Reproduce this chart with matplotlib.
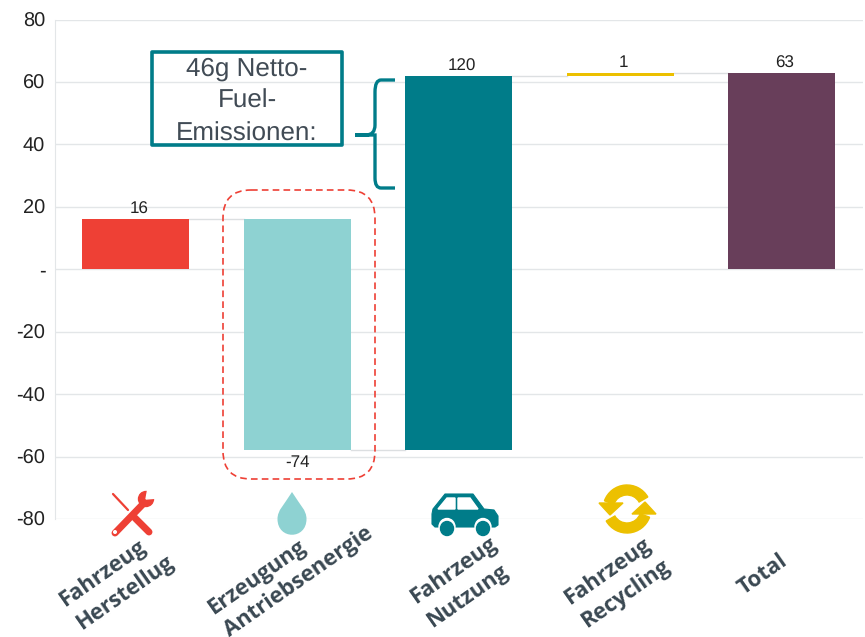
"""
Waterfall: CO2 per km by life cycle stage
"""

import numpy as np
import matplotlib
matplotlib.use("Agg")
import matplotlib.pyplot as plt
from matplotlib.patches import FancyBboxPatch, PathPatch, Polygon, Circle, Wedge, Rectangle, Ellipse
from matplotlib.path import Path
from matplotlib.transforms import ScaledTranslation

categories = ["Fahrzeug\nHerstellug", "Erzeugung\nAntriebsenergie", "Fahrzeug\nNutzung",
              "Fahrzeug\nRecycling", "Total"]
values = [16, -74, 120, 1, 63]
is_total = [False, False, False, False, True]
bar_colors = ["#ee4035", "#8ed2d2", "#007c89", "#ecc000", "#683e5a"]
y_ticks = [-80, -60, -40, -20, 0, 20, 40, 60, 80]
y_tick_labels = ["-80", "-60", "-40", "-20", "-", "20", "40", "60", "80"]
note_text = "46g Netto-\nFuel-\nEmissionen:"

TEAL = "#007c89"
RED = "#ee4035"
AQUA = "#8ed2d2"
YELLOW = "#ecc000"
GRID = "#e3e6e8"
LABEL_COL = "#3a4852"

plt.rcParams["text.hinting"] = "no_hinting"
plt.rcParams["text.hinting_factor"] = 1

W, H = 865, 637
fig = plt.figure(figsize=(W / 100, H / 100), dpi=100)
ax = fig.add_axes([55 / W, 1 - 519 / H, (862.5 - 55) / W, (519 - 19.5) / H])

# waterfall positions
bottoms = []
tops = []
running = 0
for v, total in zip(values, is_total):
    if total:
        bottoms.append(0)
        tops.append(v)
        running = v
    else:
        bottoms.append(running)
        running += v
        tops.append(running)

x = np.arange(len(values))
bar_w = 0.665
ax.bar(x, np.array(tops) - np.array(bottoms), bottom=bottoms, width=bar_w,
       color=bar_colors, zorder=3)

# connectors between bars
for i in range(len(values) - 1):
    ax.plot([x[i] + bar_w / 2, x[i + 1] - bar_w / 2], [tops[i], tops[i]],
            color="#dcdfe1", lw=1, zorder=2)

# value labels
label_dx = [3, 0, 3, 3, 3]
label_dy = [10, -12, 9, 10, 9]
for i, v in enumerate(values):
    end = min(tops[i], bottoms[i]) if v < 0 else max(tops[i], bottoms[i])
    ax.annotate(str(v), (x[i], end), xytext=(label_dx[i], label_dy[i]),
                textcoords="offset pixels", ha="center", va="center",
                fontsize=12, family="Liberation Sans", color="#222222", zorder=5)

ax.set_xlim(-0.5, len(values) - 0.5)
ax.set_ylim(-80, 80)
ax.set_yticks(y_ticks)
ax.set_yticklabels(y_tick_labels, family="Liberation Sans", fontsize=14.5, color="#222222")
ax.tick_params(axis="y", length=0, pad=7)
ax.tick_params(axis="x", length=0)
ax.grid(axis="y", color=GRID, lw=1, zorder=0)
ax.set_axisbelow(True)
for s in ["top", "right", "bottom"]:
    ax.spines[s].set_visible(False)
ax.spines["left"].set_color(GRID)

# slanted category labels, nudged to where they sit in the slide
label_offsets = [(-19, -58), (-7, -47), (3, -59), (-3, -59), (-19, -51)]
ax.set_xticks(x)
ax.set_xticklabels(categories, rotation=35, ha="center", va="center", rotation_mode="anchor",
                   multialignment="left", family="Open Sans", fontweight="bold", fontsize=15.5,
                   color=LABEL_COL, linespacing=1.4)
for lbl, (dx, dy) in zip(ax.get_xticklabels(), label_offsets):
    lbl.set_transform(lbl.get_transform() + ScaledTranslation(dx / 100, dy / 100, fig.dpi_scale_trans))

# overlay in pixel coordinates for the callouts and icons
ov = fig.add_axes([0, 0, 1, 1], zorder=10)
ov.set_xlim(0, W)
ov.set_ylim(H, 0)
ov.axis("off")

ov.add_patch(FancyBboxPatch((223, 190), 152, 289, boxstyle="round,pad=0,rounding_size=28",
                            fill=False, ec=RED, lw=1.2, ls=(0, (4, 2.5))))

ov.add_patch(Rectangle((152, 52), 190, 93, fill=False, ec=TEAL, lw=2.6, joinstyle="round"))
ov.text(247, 101.5, note_text, ha="center", va="center", family="Liberation Sans", fontsize=18.5,
        color="#414b55", linespacing=1.42)

# curly brace
brace = Path([(395, 80), (381, 80), (375, 80), (375, 92),
              (375, 125), (375, 135), (366, 135), (355, 135),
              (366, 135), (375, 135), (375, 145),
              (375, 178), (375, 188), (381, 188), (395, 188)],
             [Path.MOVETO, Path.LINETO, Path.CURVE3, Path.CURVE3,
              Path.LINETO, Path.CURVE3, Path.CURVE3, Path.LINETO,
              Path.CURVE3, Path.CURVE3, Path.LINETO,
              Path.LINETO, Path.CURVE3, Path.CURVE3, Path.LINETO])
ov.add_patch(PathPatch(brace, fill=False, ec=TEAL, lw=2.4))

# tools icon
ov.plot([113, 128], [494, 510], color=RED, lw=1.6, solid_capstyle="round")
ov.plot([135, 149], [518, 532], color=RED, lw=5, solid_capstyle="round")
ov.plot([115, 144], [533, 503], color=RED, lw=5, solid_capstyle="round")
ov.add_patch(Circle((146, 499), 7.5, color=RED))
ov.add_patch(Polygon([(146, 499), (148, 488), (158, 488), (158, 498)], color="white"))
ov.add_patch(Circle((115, 532), 1.3, color="white", zorder=4))

# drop icon
drop = Path([(292, 492), (300, 505), (306.5, 510), (306.5, 519),
             (306.5, 540), (277.5, 540), (277.5, 519), (277.5, 510), (284, 505), (292, 492)],
            [Path.MOVETO, Path.CURVE4, Path.CURVE4, Path.CURVE4,
             Path.CURVE4, Path.CURVE4, Path.CURVE4, Path.CURVE4, Path.CURVE4, Path.CURVE4])
ov.add_patch(PathPatch(drop, fc=AQUA, ec="none"))

# car icon
ov.add_patch(Polygon([(432, 514), (433, 509), (445, 494), (473, 494), (484, 509), (494, 510),
                      (498, 516), (498, 525), (495, 527), (435, 527), (432, 524)],
                     closed=True, fc=TEAL, ec=TEAL, lw=0.8, joinstyle="round"))
ov.add_patch(Polygon([(438, 509), (447, 498), (455, 498), (455, 509)], color="white"))
ov.add_patch(Polygon([(458, 498), (470, 498), (478, 509), (458, 509)], color="white"))
for cx in [447, 483]:
    ov.add_patch(Ellipse((cx, 527), 16, 17, color="white"))
    ov.add_patch(Ellipse((cx, 528.5), 13, 14, color=TEAL))

# recycling icon
ov.add_patch(Wedge((627, 509), 24, 200, 330, width=10, color=YELLOW))
ov.add_patch(Wedge((627, 509), 24, 20, 150, width=10, color=YELLOW))
ov.add_patch(Polygon([(599, 503), (623, 503), (610, 515)], color=YELLOW))
ov.add_patch(Polygon([(656, 514), (632, 514), (645, 502)], color=YELLOW))

plt.savefig("out.png", dpi=100)
